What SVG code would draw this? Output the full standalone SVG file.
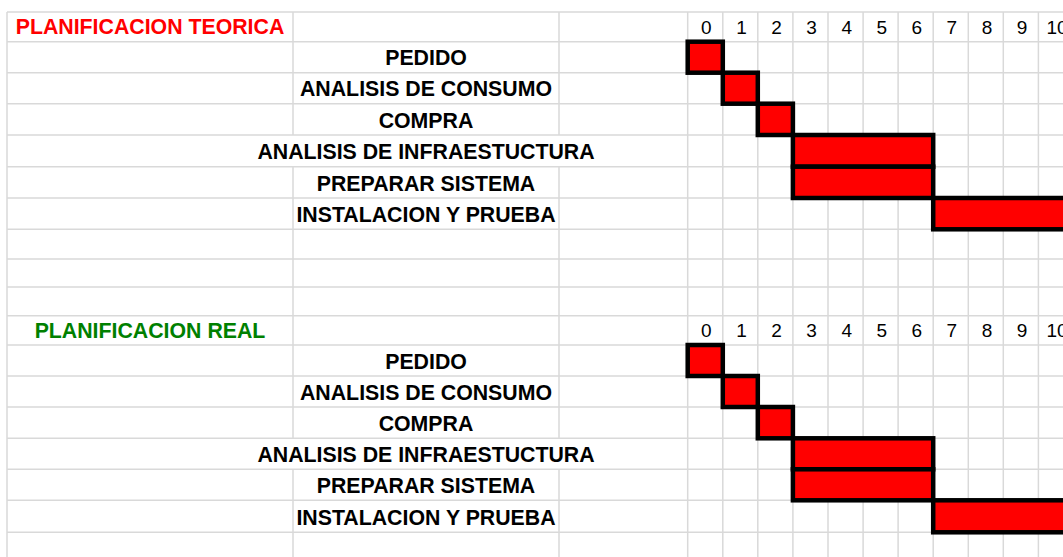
<svg xmlns="http://www.w3.org/2000/svg" width="1063" height="557" viewBox="0 0 1063 557">
<style>
.g{stroke:#d9d9d9;stroke-width:1.5;fill:none}
.lbl{font-family:"Liberation Sans",Arial,sans-serif;font-weight:bold;font-size:21.3px;fill:#000;text-anchor:middle}
.num{font-family:"Liberation Sans",Arial,sans-serif;font-size:19px;fill:#000;text-anchor:middle}
.bar{fill:#ff0000;stroke:#000;stroke-width:4.5}
</style>
<rect width="1063" height="557" fill="#fff"/>
<g id="grid">
<path class="g" d="M7,12H1063M7,41.7H1063M7,72.7H1063M7,103.7H1063M7,135H1063M7,166.7H1063M7,198H1063M7,229.3H1063M7,259H1063M7,287H1063M7,315.7H1063M7,345H1063M7,376H1063M7,407H1063M7,438.3H1063M7,469.3H1063M7,500.3H1063M7,532.3H1063"/>
<path class="g" d="M7,12V557M293,12V135M293,166.7V438.3M293,469.3V557M559,12V135M559,166.7V438.3M559,469.3V557M687.7,12V557M722.8,12V557M757.8,12V557M792.9,12V557M828,12V557M863.1,12V557M898.1,12V557M933.2,12V557M968.3,12V557M1003.3,12V557M1038.4,12V557"/>
</g>
<g id="header-teorica">
<text class="lbl" x="150" y="34.3" style="fill:#ff0000">PLANIFICACION TEORICA</text>
<text class="num" x="706.4" y="34">0</text><text class="num" x="741.5" y="34">1</text><text class="num" x="776.5" y="34">2</text><text class="num" x="811.6" y="34">3</text><text class="num" x="846.7" y="34">4</text><text class="num" x="881.8" y="34">5</text><text class="num" x="916.8" y="34">6</text><text class="num" x="951.9" y="34">7</text><text class="num" x="987" y="34">8</text><text class="num" x="1022" y="34">9</text><text class="num" x="1057.1" y="34">10</text>
</g>
<g id="t-pedido"><text class="lbl" x="426" y="65.3">PEDIDO</text><rect class="bar" x="687.7" y="41.7" width="35.1" height="31"/></g>
<g id="t-consumo"><text class="lbl" x="426" y="96.3">ANALISIS DE CONSUMO</text><rect class="bar" x="722.8" y="72.7" width="35" height="31"/></g>
<g id="t-compra"><text class="lbl" x="426" y="127.6">COMPRA</text><rect class="bar" x="757.8" y="103.7" width="35.1" height="31.3"/></g>
<g id="t-infra"><text class="lbl" x="426" y="159.3">ANALISIS DE INFRAESTUCTURA</text><rect class="bar" x="792.9" y="135" width="140.3" height="31.7"/></g>
<g id="t-preparar"><text class="lbl" x="426" y="190.6">PREPARAR SISTEMA</text><rect class="bar" x="792.9" y="166.7" width="140.3" height="31.3"/></g>
<g id="t-instal"><text class="lbl" x="426" y="221.9">INSTALACION Y PRUEBA</text><rect class="bar" x="933.2" y="198" width="150" height="31.3"/></g>
<g id="header-real">
<text class="lbl" x="150" y="337.6" style="fill:#008000">PLANIFICACION REAL</text>
<text class="num" x="706.4" y="337">0</text><text class="num" x="741.5" y="337">1</text><text class="num" x="776.5" y="337">2</text><text class="num" x="811.6" y="337">3</text><text class="num" x="846.7" y="337">4</text><text class="num" x="881.8" y="337">5</text><text class="num" x="916.8" y="337">6</text><text class="num" x="951.9" y="337">7</text><text class="num" x="987" y="337">8</text><text class="num" x="1022" y="337">9</text><text class="num" x="1057.1" y="337">10</text>
</g>
<g id="r-pedido"><text class="lbl" x="426" y="368.6">PEDIDO</text><rect class="bar" x="687.7" y="345" width="35.1" height="31"/></g>
<g id="r-consumo"><text class="lbl" x="426" y="399.6">ANALISIS DE CONSUMO</text><rect class="bar" x="722.8" y="376" width="35" height="31"/></g>
<g id="r-compra"><text class="lbl" x="426" y="430.9">COMPRA</text><rect class="bar" x="757.8" y="407" width="35.1" height="31.3"/></g>
<g id="r-infra"><text class="lbl" x="426" y="461.9">ANALISIS DE INFRAESTUCTURA</text><rect class="bar" x="792.9" y="438.3" width="140.3" height="31"/></g>
<g id="r-preparar"><text class="lbl" x="426" y="492.9">PREPARAR SISTEMA</text><rect class="bar" x="792.9" y="469.3" width="140.3" height="31"/></g>
<g id="r-instal"><text class="lbl" x="426" y="524.9">INSTALACION Y PRUEBA</text><rect class="bar" x="933.2" y="500.3" width="150" height="32"/></g>
<g id="connectors"/>
</svg>
